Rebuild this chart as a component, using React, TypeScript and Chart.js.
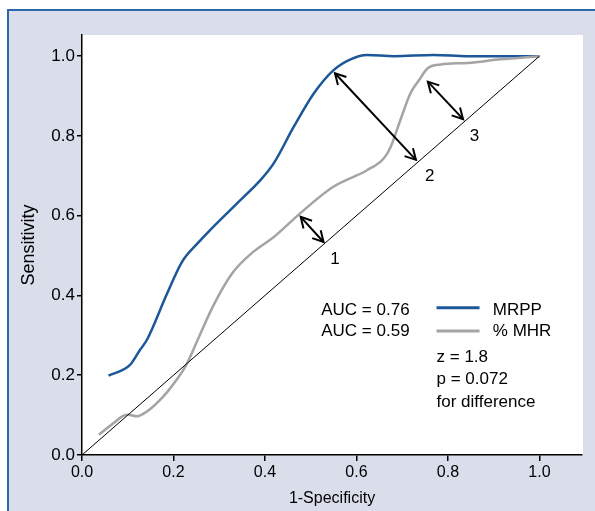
import React, { useEffect, useRef } from "react";
import { Chart, registerables } from "chart.js";

Chart.register(...registerables);

// ---- data ----
const mrppX = [0.058, 0.105, 0.127, 0.142, 0.186, 0.219, 0.253, 0.280, 0.339, 0.390, 0.419, 0.463, 0.507, 0.550, 0.587, 0.623, 0.682, 0.769, 0.842, 0.92, 1.0];
const mrppY = [0.199, 0.226, 0.264, 0.289, 0.405, 0.485, 0.531, 0.564, 0.631, 0.689, 0.731, 0.823, 0.907, 0.965, 0.992, 1.003, 1.0, 1.003, 1.0, 1.0, 1.0];

const mhrX = [0.037, 0.069, 0.090, 0.101, 0.120, 0.142, 0.178, 0.200, 0.228, 0.253, 0.286, 0.328, 0.370, 0.420, 0.478, 0.550, 0.623, 0.660, 0.675, 0.696, 0.718, 0.737, 0.755, 0.784, 0.843, 0.915, 1.0];
const mhrY = [0.051, 0.080, 0.098, 0.101, 0.097, 0.109, 0.147, 0.178, 0.226, 0.289, 0.372, 0.455, 0.505, 0.547, 0.607, 0.673, 0.714, 0.744, 0.773, 0.840, 0.907, 0.940, 0.969, 0.979, 0.983, 0.992, 1.0];

const diagX = [0, 1];
const diagY = [0, 1];

const xTicks = [0, 0.2, 0.4, 0.6, 0.8, 1.0];
const yTicks = [0, 0.2, 0.4, 0.6, 0.8, 1.0];

// arrows: [x1, y1, x2, y2]
const arrows = [
  [0.478, 0.597, 0.528, 0.534],
  [0.553, 0.957, 0.730, 0.740],
  [0.756, 0.936, 0.833, 0.842],
];
const arrowLabels = ["1", "2", "3"];
const arrowLabelX = [0.553, 0.760, 0.858];
const arrowLabelY = [0.491, 0.698, 0.798];

const seriesNames = ["MRPP", "% MHR"];
const aucTexts = ["AUC = 0.76", "AUC = 0.59"];
const statTexts = ["z = 1.8", "p = 0.072", "for difference"];

const BLUE = "#1b5799";
const GRAY = "#a4a4a4";
const LAVENDER = "#dadeeb";
const FONT = "'Liberation Sans', Arial, sans-serif";

const toPts = (xs: number[], ys: number[]) => xs.map((x, i) => ({ x, y: ys[i] }));

const framePlugin = {
  id: "frame",
  beforeDraw(chart: any) {
    const { ctx, width, height, chartArea } = chart;
    ctx.save();
    ctx.fillStyle = "#ffffff";
    ctx.fillRect(0, 0, width, height);
    ctx.fillStyle = LAVENDER;
    ctx.fillRect(7, 9, width - 7, height - 9);
    ctx.strokeStyle = "#2f66aa";
    ctx.lineWidth = 2;
    ctx.beginPath();
    ctx.moveTo(8, height);
    ctx.lineTo(8, 10);
    ctx.lineTo(width, 10);
    ctx.stroke();
    ctx.fillStyle = "#ffffff";
    ctx.fillRect(chartArea.left, chartArea.top, chartArea.right - chartArea.left + 1, chartArea.bottom - chartArea.top);
    ctx.restore();
  },
};

const annotPlugin = {
  id: "annot",
  afterDatasetsDraw(chart: any) {
    const { ctx } = chart;
    const xs = chart.scales.x;
    const ys = chart.scales.y;
    const px = (v: number) => xs.getPixelForValue(v);
    const py = (v: number) => ys.getPixelForValue(v);
    ctx.save();
    // arrows
    ctx.strokeStyle = "#000";
    ctx.lineWidth = 2;
    ctx.lineCap = "butt";
    const head = (tx: number, ty: number, fx: number, fy: number) => {
      const ang = Math.atan2(ty - fy, tx - fx);
      const L = 12;
      const a = 0.5;
      ctx.beginPath();
      ctx.moveTo(tx - L * Math.cos(ang - a), ty - L * Math.sin(ang - a));
      ctx.lineTo(tx, ty);
      ctx.lineTo(tx - L * Math.cos(ang + a), ty - L * Math.sin(ang + a));
      ctx.stroke();
    };
    arrows.forEach(([x1, y1, x2, y2]) => {
      const ax = px(x1), ay = py(y1), bx = px(x2), by = py(y2);
      ctx.beginPath();
      ctx.moveTo(ax, ay);
      ctx.lineTo(bx, by);
      ctx.stroke();
      head(ax, ay, bx, by);
      head(bx, by, ax, ay);
    });
    ctx.fillStyle = "#000";
    ctx.font = `17px ${FONT}`;
    ctx.textAlign = "center";
    ctx.textBaseline = "middle";
    arrowLabels.forEach((t, i) => ctx.fillText(t, px(arrowLabelX[i]), py(arrowLabelY[i])));

    // legend block
    ctx.textAlign = "left";
    const rowY = [0.364, 0.309];
    const lineY = [0.369, 0.311];
    const colors = [BLUE, GRAY];
    aucTexts.forEach((t, i) => {
      ctx.fillStyle = "#000";
      ctx.fillText(t, px(0.523), py(rowY[i]));
      ctx.strokeStyle = colors[i];
      ctx.lineWidth = 3;
      ctx.beginPath();
      ctx.moveTo(px(0.775), py(lineY[i]));
      ctx.lineTo(px(0.869), py(lineY[i]));
      ctx.stroke();
      ctx.fillText(seriesNames[i], px(0.898), py(rowY[i]));
    });
    const statY = [0.244, 0.189, 0.131];
    statTexts.forEach((t, i) => ctx.fillText(t, px(0.775), py(statY[i])));
    ctx.restore();
  },
};

export default function App() {
  const ref = useRef<HTMLCanvasElement | null>(null);
  useEffect(() => {
    if (!ref.current) return;
    const chart = new Chart(ref.current, {
      type: "scatter",
      data: {
        datasets: [
          {
            label: "diag",
            data: toPts(diagX, diagY),
            showLine: true,
            borderColor: "#000",
            borderWidth: 1,
            pointRadius: 0,
          },
          {
            label: seriesNames[1],
            data: toPts(mhrX, mhrY),
            showLine: true,
            borderColor: GRAY,
            borderWidth: 2.5,
            pointRadius: 0,
            cubicInterpolationMode: "monotone",
          },
          {
            label: seriesNames[0],
            data: toPts(mrppX, mrppY),
            showLine: true,
            borderColor: BLUE,
            borderWidth: 2.5,
            pointRadius: 0,
            cubicInterpolationMode: "monotone",
          },
        ],
      },
      options: {
        animation: false,
        responsive: false,
        devicePixelRatio: 1,
        layout: { padding: { top: 35, right: 13, left: 0, bottom: 0 } },
        plugins: { legend: { display: false }, tooltip: { enabled: false } },
        scales: {
          x: {
            type: "linear",
            min: 0,
            max: 1.093,
            afterFit: (s: any) => { s.height = 56; },
            afterBuildTicks: (s: any) => { s.ticks = xTicks.map((v) => ({ value: v })); },
            grid: { display: true, drawOnChartArea: false, drawTicks: true, tickLength: 6, color: "#000", lineWidth: 1.5 },
            border: { display: true, color: "#000", width: 1.5 },
            ticks: {
              color: "#000",
              padding: 2,
              font: { family: FONT, size: 16 },
              callback: (v: any) => Number(v).toFixed(1),
              maxRotation: 0,
            },
            title: {
              display: true,
              text: "1-Specificity",
              color: "#000",
              font: { family: FONT, size: 16 },
              padding: { top: 0, bottom: 3 },
            },
          },
          y: {
            type: "linear",
            min: 0,
            max: 1.053,
            afterFit: (s: any) => { s.width = 82; },
            afterBuildTicks: (s: any) => { s.ticks = yTicks.map((v) => ({ value: v })); },
            grid: { display: true, drawOnChartArea: false, drawTicks: true, tickLength: 5, color: "#000", lineWidth: 1.5 },
            border: { display: true, color: "#000", width: 1.5 },
            ticks: {
              color: "#000",
              padding: 2,
              font: { family: FONT, size: 17 },
              callback: (v: any) => Number(v).toFixed(1),
            },
            title: {
              display: true,
              text: "Sensitivity",
              color: "#000",
              font: { family: FONT, size: 18 },
              padding: { top: 18, bottom: 0 },
            },
          },
        },
      },
      plugins: [framePlugin, annotPlugin],
    });
    return () => chart.destroy();
  }, []);
  return (
    <div style={{ position: "fixed", left: 0, top: 0, width: 595, height: 511 }}>
      <canvas ref={ref} width={595} height={511} style={{ display: "block", width: 595, height: 511 }} />
    </div>
  );
}
